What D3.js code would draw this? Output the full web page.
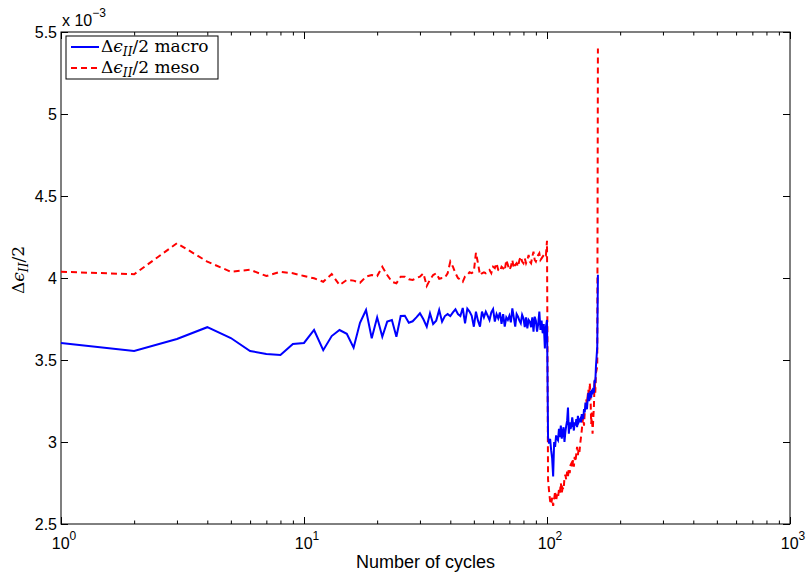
<!DOCTYPE html>
<html><head><meta charset="utf-8">
<script src="https://cdn.jsdelivr.net/npm/d3@7"></script>
<style>body{margin:0;background:#fff}</style>
</head><body>
<svg id="chart" width="808" height="576"></svg>
<script>
// values in units of 1e-3
const macro = [3.604,3.555,3.628,3.700,3.634,3.555,3.537,3.530,3.598,3.604,
3.683,3.560,3.646,3.683,3.660,3.575,3.727,3.805,3.632,3.760,
3.642,3.734,3.744,3.642,3.768,3.770,3.727,3.736,3.760,3.785,
3.748,3.703,3.785,3.720,3.740,3.805,3.734,3.768,3.780,3.768,
3.790,3.809,3.780,3.768,3.817,3.724,3.813,3.795,3.770,3.703,
3.795,3.740,3.703,3.795,3.760,3.795,3.770,3.744,3.790,3.810,
3.734,3.780,3.754,3.790,3.720,3.780,3.703,3.760,3.744,3.770,
3.730,3.815,3.760,3.703,3.780,3.764,3.740,3.724,3.775,3.754,
3.700,3.760,3.693,3.745,3.734,3.700,3.760,3.673,3.764,3.740,
3.673,3.720,3.795,3.683,3.740,3.663,3.720,3.571,3.703,3.744,
3.03,2.99,3.02,2.95,2.90,2.79,3.00,2.97,3.04,3.02,
3.01,3.08,3.03,3.10,3.02,3.06,3.09,3.00,3.06,3.10,
3.13,3.21,3.05,3.12,3.08,3.10,3.15,3.11,3.07,3.12,
3.10,3.14,3.09,3.16,3.12,3.13,3.14,3.12,3.17,3.15,
3.14,3.20,3.18,3.24,3.22,3.20,3.26,3.30,3.25,3.28,
3.31,3.27,3.32,3.29,3.33,3.30,3.38,3.36,3.46,3.52,
3.58,4.02];
const meso = [4.038,4.023,4.212,4.100,4.038,4.050,4.012,4.038,4.029,4.012,
3.998,3.977,4.024,3.957,3.988,3.984,3.971,4.008,4.018,4.012,
4.069,4.018,3.977,3.968,4.008,4.008,3.992,3.988,4.000,4.008,
4.029,3.951,3.990,4.018,4.029,3.995,4.000,4.002,4.029,4.100,
4.069,4.029,4.000,3.990,3.977,4.010,4.018,4.035,4.030,4.040,
4.154,4.090,4.018,4.029,4.035,4.029,4.040,4.049,4.030,4.069,
4.060,4.090,4.049,4.040,4.069,4.060,4.045,4.110,4.080,4.049,
4.069,4.110,4.060,4.080,4.090,4.069,4.110,4.130,4.100,4.090,
4.120,4.090,4.110,4.140,4.100,4.090,4.130,4.160,4.110,4.100,
4.120,4.140,4.151,4.110,4.120,4.130,4.140,4.151,4.140,4.227,
2.77,2.70,2.64,2.62,2.66,2.61,2.65,2.70,2.64,2.68,
2.66,2.71,2.69,2.75,2.69,2.72,2.71,2.78,2.80,2.77,
2.82,2.79,2.84,2.81,2.86,2.87,2.84,2.89,2.85,2.91,
2.88,2.93,2.97,2.92,2.96,2.94,2.99,3.03,3.07,3.12,
3.15,3.10,3.18,3.20,3.26,3.23,3.28,3.32,3.25,3.36,
3.28,3.11,3.18,3.05,3.14,3.22,3.38,3.30,3.42,3.44,
3.46,5.40];
const cycles = macro.map((d, i) => i + 1);
const xTicks = [1, 10, 100, 1000];
const xTickExps = ["0", "1", "2", "3"];
const yTicks = [2.5, 3, 3.5, 4, 4.5, 5, 5.5];
const yTickLabels = ["2.5", "3", "3.5", "4", "4.5", "5", "5.5"];
const legendNames = ["macro", "meso"];

const svg = d3.select("#chart");
const L = 61, R = 790, T = 32, B = 524;
const x = d3.scaleLog().domain([1, 1000]).range([L, R]);
const y = d3.scaleLinear().domain([2.5, 5.5]).range([B, T]);
const sans = "'Liberation Sans', Arial, Helvetica, sans-serif";
const serif = "'DejaVu Serif', 'Liberation Serif', serif";

svg.append("rect").attr("width", 808).attr("height", 576).attr("fill", "#fff");

const minor = [];
[1, 10, 100].forEach(b => { for (let k = 2; k <= 9; k++) minor.push(b * k); });

function styleAxis(g) {
  g.select(".domain").remove();
  g.selectAll("line").attr("stroke", "#000").attr("stroke-width", 1);
  g.selectAll("text").remove();
}
svg.append("g").attr("transform", `translate(0,${B})`)
  .call(d3.axisBottom(x).tickValues(xTicks).tickSize(-7).tickSizeOuter(0).tickFormat(() => "")).call(styleAxis);
svg.append("g").attr("transform", `translate(0,${B})`)
  .call(d3.axisBottom(x).tickValues(minor).tickSize(-3.5).tickSizeOuter(0).tickFormat(() => "")).call(styleAxis);
svg.append("g").attr("transform", `translate(0,${T})`)
  .call(d3.axisTop(x).tickValues(xTicks).tickSize(-7).tickSizeOuter(0).tickFormat(() => "")).call(styleAxis);
svg.append("g").attr("transform", `translate(0,${T})`)
  .call(d3.axisTop(x).tickValues(minor).tickSize(-3.5).tickSizeOuter(0).tickFormat(() => "")).call(styleAxis);
svg.append("g").attr("transform", `translate(${L},0)`)
  .call(d3.axisLeft(y).tickValues(yTicks).tickSize(-7).tickSizeOuter(0).tickFormat(() => "")).call(styleAxis);
svg.append("g").attr("transform", `translate(${R},0)`)
  .call(d3.axisRight(y).tickValues(yTicks).tickSize(-7).tickSizeOuter(0).tickFormat(() => "")).call(styleAxis);

svg.append("rect").attr("x", L).attr("y", T).attr("width", R - L).attr("height", B - T)
  .attr("fill", "none").attr("stroke", "#000").attr("stroke-width", 1);

svg.append("g").selectAll("text").data(yTicks).join("text")
  .attr("x", L - 4).attr("y", d => y(d)).attr("dy", "0.36em")
  .attr("text-anchor", "end").attr("font-family", sans).attr("font-size", 16)
  .text((d, i) => yTickLabels[i]);

const xl = svg.append("g").selectAll("text").data(xTicks).join("text")
  .attr("x", d => x(d) + 3).attr("y", B + 25)
  .attr("text-anchor", "middle").attr("font-family", sans).attr("font-size", 16);
xl.append("tspan").text("10");
xl.append("tspan").attr("font-size", 12).attr("dy", -9).text((d, i) => xTickExps[i]);

const ex = svg.append("text").attr("x", 62).attr("y", 26).attr("font-family", sans).attr("font-size", 16);
ex.append("tspan").text("x 10");
ex.append("tspan").attr("font-size", 12).attr("dy", -9).text("\u22123");

svg.append("text").attr("x", (L + R) / 2).attr("y", 568).attr("text-anchor", "middle")
  .attr("font-family", sans).attr("font-size", 18).text("Number of cycles");

function mathLabel(sel, size, suffix) {
  sel.append("tspan").text("\u0394");
  sel.append("tspan").attr("font-style", "italic").text("\u03F5");
  sel.append("tspan").attr("font-style", "italic").attr("font-size", size * 0.72).attr("dy", size * 0.25).text("II");
  sel.append("tspan").attr("dy", -size * 0.25).text("/2" + suffix);
}
const yl = svg.append("text").attr("transform", "translate(24,270) rotate(-90)")
  .attr("text-anchor", "middle").attr("font-family", serif).attr("font-size", 17);
mathLabel(yl, 17, "");

const line = d3.line().x((d, i) => x(cycles[i])).y(d => y(d));
svg.append("path").datum(meso).attr("d", line).attr("fill", "none")
  .attr("stroke", "#ff0000").attr("stroke-width", 2).attr("stroke-dasharray", "6,4");
svg.append("path").datum(macro).attr("d", line).attr("fill", "none")
  .attr("stroke", "#0000ff").attr("stroke-width", 2);

const lg = svg.append("g");
lg.append("rect").attr("x", 66).attr("y", 36).attr("width", 152).attr("height", 43)
  .attr("fill", "#fff").attr("stroke", "#000").attr("stroke-width", 1);
const colors = ["#0000ff", "#ff0000"];
const dashes = [null, "6,4"];
legendNames.forEach((nm, i) => {
  const yy = 47 + i * 21;
  lg.append("line").attr("x1", 71).attr("x2", 99).attr("y1", yy).attr("y2", yy)
    .attr("stroke", colors[i]).attr("stroke-width", 2).attr("stroke-dasharray", dashes[i]);
  const t = lg.append("text").attr("x", 101).attr("y", yy + 5).attr("font-family", serif).attr("font-size", 17);
  mathLabel(t, 17, " " + nm);
});
</script>
</body></html>
